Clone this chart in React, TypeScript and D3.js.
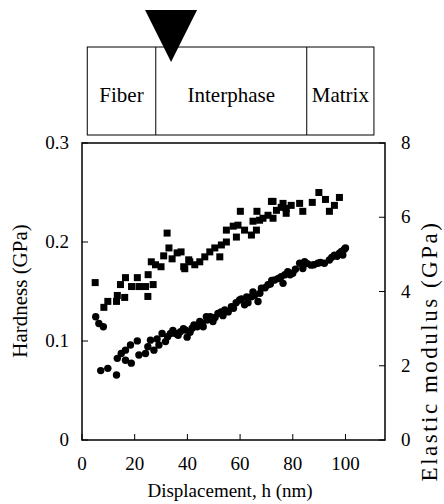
import React from "react";
import * as d3 from "d3";

const hardnessX = [5, 8.3, 9.8, 13.1, 13.4, 14.6, 16.2, 16.5, 18.8, 21, 21.6, 24.1, 25.1, 25, 27, 26.3, 27.9, 30, 31, 32.3, 33, 34.2, 36.1, 37.6, 38.6, 39, 40.5, 40.9, 42.8, 44.7, 46.6, 48.5, 50.4, 52.3, 52.9, 54.8, 54.8, 57.4, 58.6, 59.2, 60.1, 61.7, 64.3, 64.9, 66.2, 67.4, 66.4, 68.7, 70.6, 71.9, 72.5, 72.5, 73.8, 75.6, 76.3, 77.5, 77.5, 79.4, 82.6, 83.8, 87.4, 89.9, 92.4, 93.9, 95.8, 97.7];
const hardnessY = [0.159, 0.134, 0.140, 0.140, 0.146, 0.157, 0.144, 0.164, 0.155, 0.164, 0.155, 0.155, 0.167, 0.145, 0.157, 0.180, 0.177, 0.175, 0.186, 0.209, 0.194, 0.183, 0.189, 0.190, 0.175, 0.173, 0.182, 0.180, 0.177, 0.180, 0.185, 0.190, 0.194, 0.185, 0.197, 0.200, 0.212, 0.216, 0.205, 0.217, 0.231, 0.212, 0.207, 0.221, 0.212, 0.222, 0.231, 0.224, 0.227, 0.241, 0.224, 0.241, 0.232, 0.235, 0.239, 0.229, 0.234, 0.237, 0.239, 0.231, 0.240, 0.250, 0.243, 0.231, 0.237, 0.245];

const modulusX = [5.2, 6.4, 8.1, 7.1, 9.8, 13.1, 13.4, 14.9, 16.5, 16.5, 18.7, 18.4, 21, 21.6, 24.1, 25, 26, 27.3, 28.5, 29.2, 30.4, 31.7, 32.5, 33.6, 34.5, 35.5, 36.5, 37.4, 38.5, 39.3, 39.9, 41, 41.8, 42.5, 43.7, 44.7, 45.6, 46, 47.2, 47.5, 48.7, 49.7, 50.5, 51.6, 52.8, 53.5, 54.2, 55.5, 56.7, 57.5, 58.5, 59.8, 60.5, 61.7, 62.5, 63, 64.3, 64.9, 65.5, 66.8, 67.5, 68.1, 69.5, 70.6, 71.5, 72, 73.1, 74.5, 75.6, 76.3, 77, 78.1, 79, 80, 81, 82.6, 83.8, 84.5, 85.5, 87, 88, 89.5, 90.5, 92, 93.9, 94.8, 95.8, 96.8, 97.7, 98.5, 99, 99.6, 100];
const modulusY = [3.32, 3.14, 3.05, 1.87, 1.93, 1.75, 2.20, 2.33, 2.42, 2.15, 2.07, 2.56, 2.67, 2.29, 2.33, 2.51, 2.69, 2.42, 2.72, 2.56, 2.87, 2.65, 2.78, 2.87, 2.95, 2.87, 2.82, 2.92, 3.0, 2.96, 2.77, 2.9, 3.01, 3.1, 3.05, 3.19, 3.14, 3.05, 3.32, 3.23, 3.32, 3.19, 3.3, 3.41, 3.45, 3.35, 3.50, 3.45, 3.59, 3.55, 3.7, 3.77, 3.8, 3.64, 3.85, 3.7, 3.86, 3.99, 3.9, 3.73, 3.95, 4.09, 4.1, 4.18, 4.2, 4.3, 4.31, 4.35, 4.40, 4.22, 4.45, 4.53, 4.45, 4.49, 4.6, 4.76, 4.62, 4.80, 4.75, 4.71, 4.72, 4.76, 4.78, 4.76, 4.85, 4.92, 4.98, 4.95, 5.03, 5.08, 4.98, 5.14, 5.17];

const xTicks = [0, 20, 40, 60, 80, 100];
const leftTicks = [0, 0.1, 0.2, 0.3];
const rightTicks = [0, 2, 4, 6, 8];

const regionLabels = ["Fiber", "Interphase", "Matrix"];
const regionBounds = [2, 28, 85.3, 110.8];
const indenterX = 33.8;

const FONT = "'Liberation Serif', 'Times New Roman', serif";

export default function App() {
  const W = 444, H = 504;
  const x = d3.scaleLinear().domain([0, 115]).range([82, 385]);
  const yL = d3.scaleLinear().domain([0, 0.3]).range([440, 143]);
  const yR = d3.scaleLinear().domain([0, 8]).range([440, 143]);
  const sq = 7;
  const boxTop = 47, boxBot = 135;
  const triTop = 10, triBot = 62, triHalf = 26;
  const tri = d3.path();
  const ax = x(indenterX);
  tri.moveTo(ax - triHalf, triTop);
  tri.lineTo(ax + triHalf, triTop);
  tri.lineTo(ax, triBot);
  tri.closePath();

  return (
    <svg width={W} height={H} style={{ position: "absolute", left: 0, top: 0, background: "#fff" }} fontFamily={FONT}>
      {/* diagram */}
      <rect x={x(regionBounds[0])} y={boxTop} width={x(regionBounds[3]) - x(regionBounds[0])} height={boxBot - boxTop} fill="none" stroke="#000" strokeWidth={1} />
      {regionBounds.slice(1, 3).map((b, i) => (
        <line key={i} x1={x(b)} x2={x(b)} y1={boxTop} y2={boxBot} stroke="#000" strokeWidth={1} />
      ))}
      {regionLabels.map((l, i) => (
        <text key={l} x={(x(regionBounds[i]) + x(regionBounds[i + 1])) / 2} y={102} textAnchor="middle" fontSize={21}>{l}</text>
      ))}
      <path d={tri.toString()} fill="#000" />

      {/* frame */}
      <rect x={x(0)} y={yL(0.3)} width={x(115) - x(0)} height={yL(0) - yL(0.3)} fill="none" stroke="#000" strokeWidth={1.5} />
      {xTicks.map((t) => (
        <g key={t}>
          <line x1={x(t)} x2={x(t)} y1={440} y2={434} stroke="#000" strokeWidth={1} />
          <text x={x(t)} y={470} textAnchor="middle" fontSize={19}>{t}</text>
        </g>
      ))}
      {leftTicks.map((t) => (
        <g key={t}>
          <line x1={x(0)} x2={x(0) + 6} y1={yL(t)} y2={yL(t)} stroke="#000" strokeWidth={1} />
          <text x={69} y={yL(t) + 6} textAnchor="end" fontSize={19}>{t === 0 ? "0" : d3.format(".1f")(t)}</text>
        </g>
      ))}
      {rightTicks.map((t) => (
        <g key={t}>
          <line x1={x(115)} x2={x(115) - 6} y1={yR(t)} y2={yR(t)} stroke="#000" strokeWidth={1} />
          <text x={401} y={yR(t) + 6} textAnchor="start" fontSize={19}>{t}</text>
        </g>
      ))}
      <text x={230} y={497} textAnchor="middle" fontSize={19}>Displacement, h (nm)</text>
      <text transform={`translate(27,291) rotate(-90)`} textAnchor="middle" fontSize={21}>Hardness (GPa)</text>
      <text transform={`translate(437,351) rotate(-90)`} textAnchor="middle" fontSize={23} letterSpacing={2.5}>Elastic modulus (GPa)</text>

      {/* data */}
      {modulusX.map((v, i) => (
        <circle key={"c" + i} cx={x(v)} cy={yR(modulusY[i])} r={3.7} fill="#000" />
      ))}
      {hardnessX.map((v, i) => (
        <rect key={"s" + i} x={x(v) - sq / 2} y={yL(hardnessY[i]) - sq / 2} width={sq} height={sq} fill="#000" />
      ))}
    </svg>
  );
}
